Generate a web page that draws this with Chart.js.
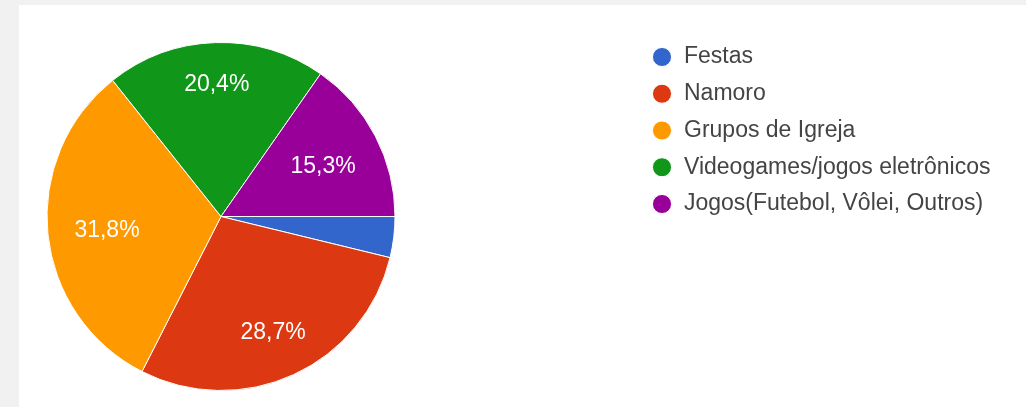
<!DOCTYPE html>
<html><head><meta charset="utf-8">
<script src="https://cdn.jsdelivr.net/npm/chart.js@4.4.1/dist/chart.umd.min.js"></script>
<style>
html,body{margin:0;padding:0;background:#f1f1f1;width:1026px;height:407px;overflow:hidden}
#panel{position:absolute;left:19px;top:5px;width:1007px;height:402px;background:#fff}
canvas{display:block}
</style></head><body>
<div id="panel"><canvas id="c" width="1007" height="402"></canvas></div>
<script>
// ---- data ----
const categories = ['Festas', 'Namoro', 'Grupos de Igreja', 'Videogames/jogos eletrônicos', 'Jogos(Futebol, Vôlei, Outros)'];
const percentages = [3.8, 28.7, 31.8, 20.4, 15.3];
const percentLabels = ['3,8%', '28,7%', '31,8%', '20,4%', '15,3%'];
const sliceColors = ['#3366cc', '#dc3912', '#ff9900', '#109618', '#990099'];

// ---- layout constants ----
const LEGEND_LEFT = 618.75, LEGEND_TOP = 26.75;
const LABEL_OUTER = 0.85, LABEL_BOX_H = 16, MIN_LABEL_PCT = 5;

const placeLegend = {
  id: 'placeLegend',
  afterLayout(chart) {
    const lg = chart.legend;
    lg.left = LEGEND_LEFT; lg.top = LEGEND_TOP;
    lg.right = lg.left + lg.width + 20; lg.bottom = lg.top + lg.height;
  }
};

const sliceLabels = {
  id: 'sliceLabels',
  afterDatasetsDraw(chart) {
    const meta = chart.getDatasetMeta(0), ctx = chart.ctx;
    ctx.save();
    ctx.font = '23px "Liberation Sans", Arial, sans-serif';
    ctx.fillStyle = '#ffffff'; ctx.textAlign = 'center'; ctx.textBaseline = 'middle';
    meta.data.forEach((arc, i) => {
      if (percentages[i] < MIN_LABEL_PCT) return;
      const p = arc.getProps(['x', 'y', 'startAngle', 'endAngle', 'outerRadius'], true);
      const mid = (p.startAngle + p.endAngle) / 2, ux = Math.cos(mid), uy = Math.sin(mid);
      const text = percentLabels[i], w = ctx.measureText(text).width;
      const a = Math.sign(ux) * w / 2, b = Math.sign(uy) * LABEL_BOX_H / 2, r = LABEL_OUTER * p.outerRadius;
      const q = ux * a + uy * b;
      const d = -q + Math.sqrt(q * q - (a * a + b * b - r * r));
      ctx.fillText(text, p.x + d * ux, p.y + d * uy + 3);
    });
    ctx.restore();
  }
};

new Chart(document.getElementById('c'), {
  type: 'pie',
  data: {
    labels: categories,
    datasets: [{ data: percentages, backgroundColor: sliceColors, borderColor: '#ffffff', borderWidth: 1 }]
  },
  options: {
    responsive: false, animation: false, rotation: 90, events: [],
    layout: { padding: { left: 27.5, top: 37, right: 630.5, bottom: 16 } },
    plugins: {
      legend: {
        position: 'chartArea', align: 'start',
        labels: { usePointStyle: true, pointStyle: 'circle', boxWidth: 21, boxHeight: 13.5, padding: 13.75,
                  color: '#444444', font: { family: '"Liberation Sans", Arial, sans-serif', size: 23 } }
      },
      tooltip: { enabled: false }
    }
  },
  plugins: [placeLegend, sliceLabels]
});
</script>
</body></html>
